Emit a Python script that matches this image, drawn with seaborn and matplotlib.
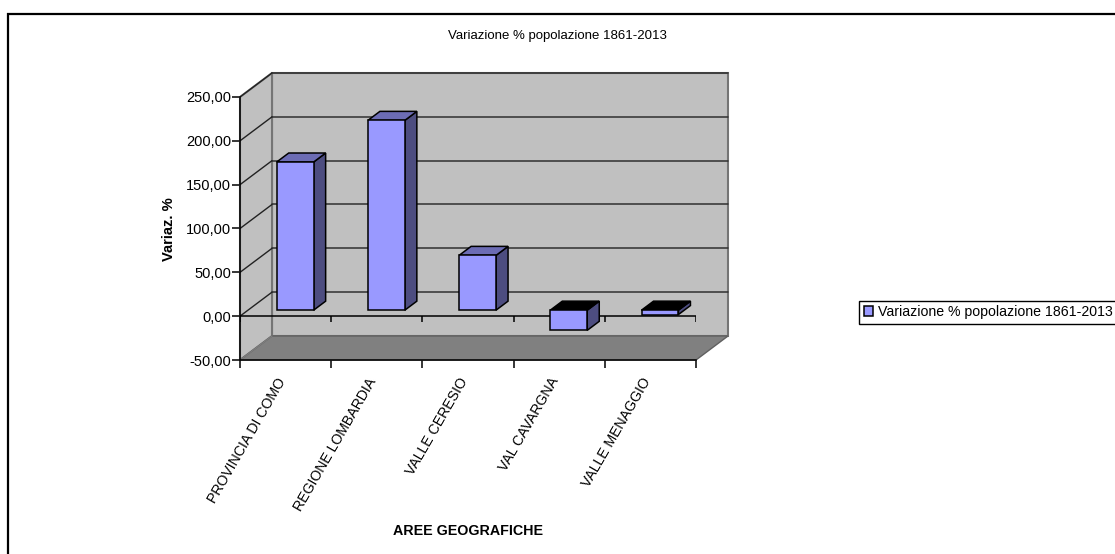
import numpy as np
import pandas as pd
import matplotlib
matplotlib.use("Agg")
import matplotlib.pyplot as plt
from matplotlib.lines import Line2D
from matplotlib.transforms import ScaledTranslation
import seaborn as sns

aree = ["PROVINCIA DI COMO", "REGIONE LOMBARDIA", "VALLE CERESIO", "VAL CAVARGNA", "VALLE MENAGGIO"]
variazione = [169.0, 216.5, 62.5, -23.0, -5.0]
y_ticks = [-50, 0, 50, 100, 150, 200, 250]
serie = "Variazione % popolazione 1861-2013"

W, H = 1115, 554
# plot box of the front plane, in pixels
LEFT, RIGHT, TOP, BOTTOM = 240, 696, 97, 360

sns.set_theme(style="white")
plt.rcParams["font.family"] = ["Liberation Sans", "DejaVu Sans"]

fig = plt.figure(figsize=(W / 100, H / 100), dpi=100, facecolor="white")
ax = fig.add_axes([LEFT / W, 1 - BOTTOM / H, (RIGHT - LEFT) / W, (BOTTOM - TOP) / H])
ax.patch.set_alpha(0)

df = pd.DataFrame({"area": aree, "val": variazione})
sns.barplot(data=df, x="area", y="val", color="#9999ff", saturation=1, width=0.405,
            edgecolor="black", linewidth=1.1, label=serie, ax=ax, zorder=6)
ax.set_xlim(-0.5, 4.5)
ax.set_ylim(-50, 250)

# depth of the fake 3D box in data units
px_x = (RIGHT - LEFT) / 5
px_y = (BOTTOM - TOP) / 300
DX, DY = 32 / px_x, 24 / px_y
x0, x1, y0, y1 = -0.5, 4.5, -50, 250

# walls and floor
ax.fill([x0 + DX, x1 + DX, x1 + DX, x0 + DX], [y0 + DY, y0 + DY, y1 + DY, y1 + DY],
        color="#c0c0c0", ec="#757575", lw=1.5, zorder=1, clip_on=False)
ax.fill([x0, x0 + DX, x0 + DX, x0], [y0, y0 + DY, y1 + DY, y1], color="#c0c0c0", ec="#757575", lw=1.5,
        zorder=1, clip_on=False)
ax.fill([x0, x1, x1 + DX, x0 + DX], [y0, y0, y0 + DY, y0 + DY], color="#808080", ec="#606060", lw=1,
        zorder=1, clip_on=False)

# gridlines, back wall plus the diagonal on the left wall
for t in y_ticks[1:]:
    ax.plot([x0 + DX, x1 + DX], [t + DY, t + DY], color="#303030", lw=1.1, zorder=2, clip_on=False)
    ax.plot([x0, x0 + DX], [t, t + DY], color="#222222", lw=1, zorder=2, clip_on=False)
ax.plot([x0, x0 + DX], [y0, y0 + DY], color="#808080", lw=0.8, zorder=2, clip_on=False)

# zero line with its own ticks
confini = np.arange(x0, x1 + 0.5)
ax.plot([x0, x1], [0, 0], color="black", lw=1.1, zorder=3)
ax.vlines(confini, 0, -6 / px_y, color="black", lw=1.1, zorder=3)

# move bars back into the box and add side and top faces
OFF_X, OFF_Y = 0.105, 6 / px_y
BX, BY = 12 / px_x, 9 / px_y
barre = [q for q in ax.patches if q.get_zorder() == 6]
for p, v in zip(barre, variazione):
    p.set_x(p.get_x() + OFF_X)
    p.set_y(OFF_Y)
    a, b = p.get_x(), p.get_x() + p.get_width()
    lo, hi = OFF_Y + min(v, 0), OFF_Y + max(v, 0)
    ax.fill([b, b + BX, b + BX, b], [lo, lo + BY, hi + BY, hi], fc="#4d4d80", ec="black", lw=1.1,
            zorder=5, clip_on=False)
    ax.fill([a, b, b + BX, a + BX], [hi, hi, hi + BY, hi + BY], fc="#6c6cb4" if v > 0 else "black",
            ec="black", lw=1.1, zorder=5, clip_on=False)

ax.set_yticks(y_ticks)
ax.set_yticklabels([f"{t:.2f}".replace(".", ",") for t in y_ticks], fontsize=10.5, color="black")
ax.set_xticks(range(5))
ax.set_xticklabels(aree, rotation=60, ha="right", rotation_mode="anchor", fontsize=10.2, color="black")
ax.set_xticks(confini, minor=True)
ax.tick_params(axis="x", which="major", length=0, pad=11)
ax.tick_params(axis="x", which="minor", length=6, width=1.1, color="black", bottom=True)
ax.tick_params(axis="y", length=6, width=1.1, color="black", left=True, pad=0.5)

# labels sit a bit left of the category centre in the original
sposta = ScaledTranslation(-9.5 / 100, 0, fig.dpi_scale_trans)
for lab in ax.get_xticklabels():
    lab.set_transform(lab.get_transform() + sposta)

sns.despine(ax=ax, top=True, right=True)
for s in ["left", "bottom"]:
    ax.spines[s].set_color("black")
    ax.spines[s].set_linewidth(1.1)
    ax.spines[s].set_zorder(4)

ax.set_xlabel("AREE GEOGRAFICHE", fontsize=10.3, fontweight="bold", color="black")
ax.xaxis.set_label_coords((468 - LEFT) / (RIGHT - LEFT), (BOTTOM - 531) / (BOTTOM - TOP))
ax.xaxis.label.set_va("center")
ax.set_ylabel("Variaz. %", fontsize=10.6, fontweight="bold", color="black")
ax.yaxis.set_label_coords((169 - LEFT) / (RIGHT - LEFT), (BOTTOM - 229) / (BOTTOM - TOP))
ax.yaxis.label.set_va("center")
fig.text(557 / W, 1 - 36 / H, serie, ha="center", va="center", fontsize=9.5, color="black")

leg = ax.legend(loc="upper left", bbox_to_anchor=(859 / W, 1 - 300.5 / H), bbox_transform=fig.transFigure,
                fontsize=10.2, fancybox=False, framealpha=1, edgecolor="black", borderaxespad=0,
                handlelength=0.65, handleheight=0.65, handletextpad=0.35, borderpad=0.32)
leg.get_frame().set_linewidth(1)
for t in leg.get_texts():
    t.set_color("black")

# outer frame of the chart, right and bottom fall off the picture
fig.add_artist(Line2D([7 / W, 1], [1 - 13.5 / H] * 2, color="black", lw=1.6, solid_capstyle="butt"))
fig.add_artist(Line2D([7.5 / W] * 2, [0, 1 - 13 / H], color="black", lw=1.6, solid_capstyle="butt"))

fig.savefig("out.png", dpi=100)
